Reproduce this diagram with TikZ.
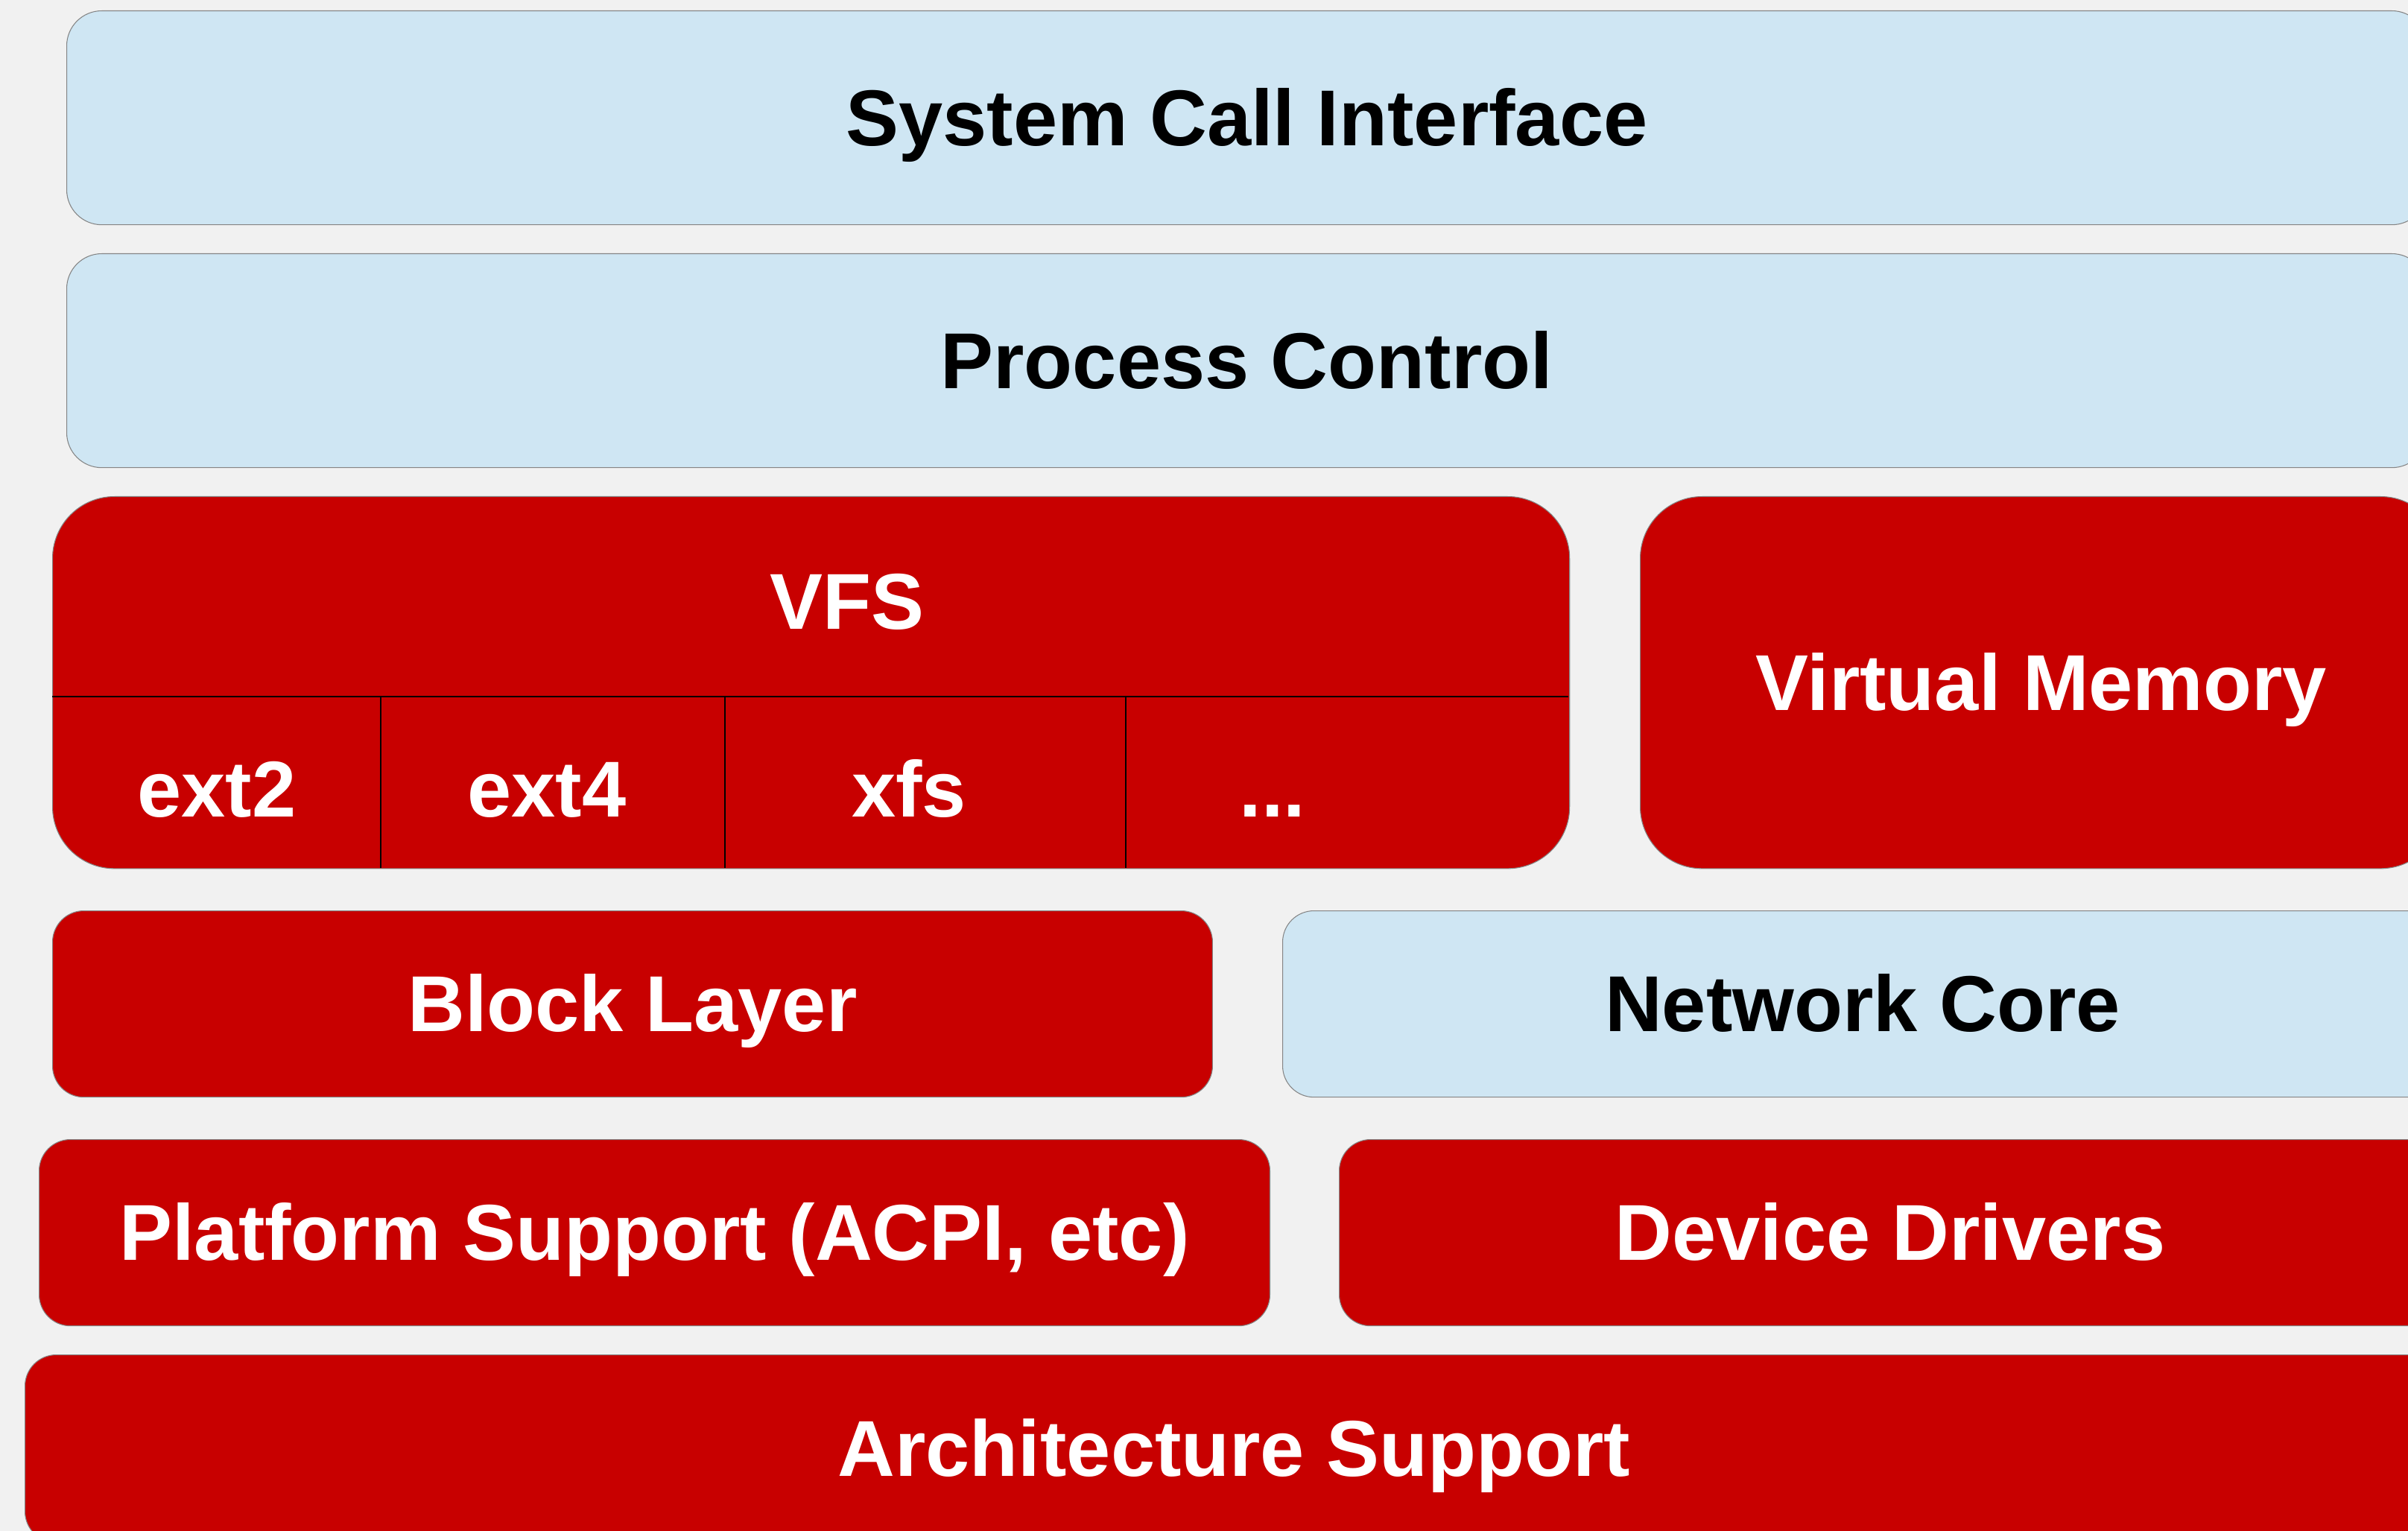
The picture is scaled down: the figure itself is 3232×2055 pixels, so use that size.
\documentclass[tikz,border=0pt]{standalone}
\usepackage{fontspec}
\setmainfont{Liberation Sans}
\usetikzlibrary{positioning}

\definecolor{kernelred}{HTML}{C80000}
\definecolor{userblue}{HTML}{CFE6F3}
\definecolor{edgegrey}{HTML}{858585}
\definecolor{pagegrey}{HTML}{F1F1F1}

\begin{document}
\begin{tikzpicture}[x=0.01cm, y=-0.01cm,
			layer/.style={draw=edgegrey, line width=0.3pt, rectangle, anchor=north west, inner sep=0pt,
				font=\fontsize{30.25}{36}\selectfont\bfseries, text height=27.4pt, text depth=6.4pt},
			userbox/.style={layer, fill=userblue, text=black, rounded corners=0.47cm},
			corebox/.style={layer, fill=kernelred, text=white, rounded corners=0.42cm},
			bigbox/.style={layer, fill=kernelred, text=white, rounded corners=0.83cm},
			fstext/.style={text=white, inner sep=0pt, font=\fontsize{30.25}{36}\selectfont\bfseries,
				text height=27.4pt, text depth=6.4pt},
			divider/.style={draw=black, line width=0.5pt}]
			\useasboundingbox (0,0) rectangle (3232,2055);
			\clip (0,0) rectangle (3232,2055);
			\fill[pagegrey] (0,0) rectangle (3232,2055);
			
			% user facing layers
			\node[userbox, minimum width=31.66cm, minimum height=2.87cm] (syscall) at (89,14) {System Call Interface};
			\node[userbox, minimum width=31.66cm, minimum height=2.87cm] (proc) at (89,340) {Process Control};
			
			% filesystems and memory
			\node[bigbox, minimum width=20.35cm, minimum height=4.99cm] (vfs) at (70,666) {};
			\node[bigbox, minimum width=10.76cm, minimum height=4.99cm] (vm) at (2201,666) {Virtual Memory};
			\draw[divider] (70,935) -- (2105,935);
			\draw[divider] (511,935) -- (511,1165);
			\draw[divider] (973,935) -- (973,1165);
			\draw[divider] (1511,935) -- (1511,1165);
			\node[fstext] (vfslabel) at (1137,808) {VFS};
			\node[fstext] (ext2) at (291,1060) {ext2};
			\node[fstext] (ext4) at (734,1060) {ext4};
			\node[fstext] (xfs) at (1220,1060) {xfs};
			\node[fstext] (more) at (1708,1060) {...};
			
			% lower layers
			\node[corebox, minimum width=15.56cm, minimum height=2.50cm] (block) at (70,1222) {Block Layer};
			\node[userbox, rounded corners=0.42cm, minimum width=15.56cm, minimum height=2.50cm] (net) at (1721,1222) {Network Core};
			\node[corebox, minimum width=16.51cm, minimum height=2.50cm] (platform) at (52,1529) {Platform Support (ACPI, etc)};
			\node[corebox, minimum width=14.78cm, minimum height=2.50cm] (drivers) at (1797,1529) {Device Drivers};
			\node[corebox, minimum width=32.44cm, minimum height=2.52cm] (arch) at (33,1818) {Architecture Support};
		\end{tikzpicture}
\end{document}
